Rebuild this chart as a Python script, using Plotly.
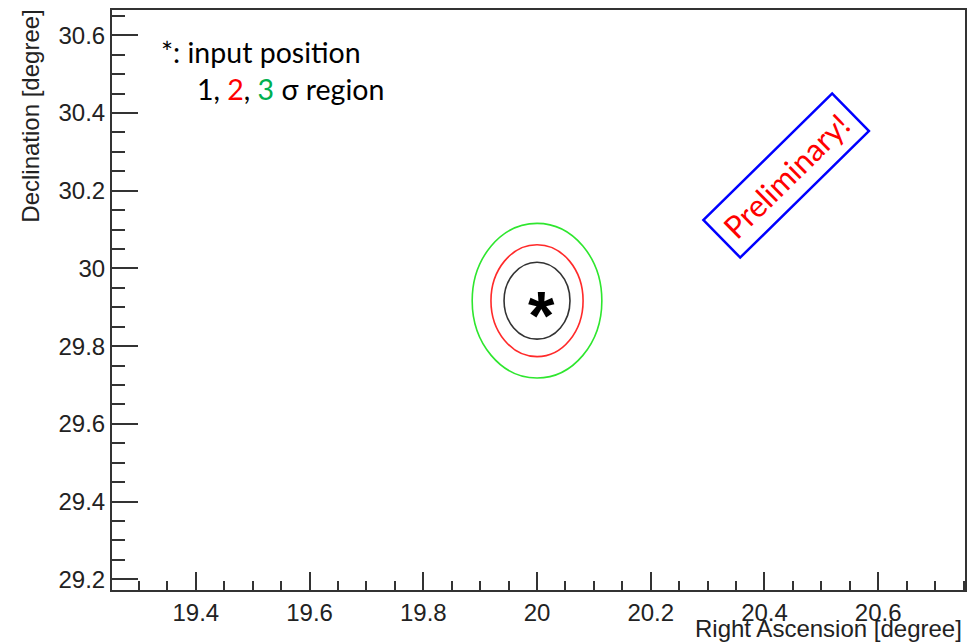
import plotly.graph_objects as go

# ---- data ----
x_range = [19.2526, 20.7526]
y_range = [29.1726, 30.665]
center_ra = 20.0
center_dec = 29.917
sigma_levels = ["1", "2", "3"]
semi_ra = [0.058, 0.081, 0.114]
semi_dec = [0.099, 0.144, 0.199]
sigma_colors = ["#333333", "#ff2a2a", "#2ee62e"]
input_ra = [20.008]
input_dec = [29.902]

W, H = 975, 643
ML, MR, MT, MB = 112, 8, 8, 53
PW, PH = W - ML - MR, H - MT - MB


def px(xp):
    return (xp - ML) / PW


def py(yp):
    return (H - MB - yp) / PH


fig = go.Figure()
fig.add_trace(go.Scatter(x=[None], y=[None], showlegend=False))

shapes = []
for lvl, a, b, c in zip(sigma_levels, semi_ra, semi_dec, sigma_colors):
    shapes.append(dict(type="circle", xref="x", yref="y",
                       x0=center_ra - a, x1=center_ra + a,
                       y0=center_dec - b, y1=center_dec + b,
                       line=dict(color=c, width=1.6)))

annotations = []
# input position asterisk
for xr, yd in zip(input_ra, input_dec):
    annotations.append(dict(x=xr, y=yd, xref="x", yref="y", text="<b>*</b>",
                            showarrow=False, yshift=-8,
                            font=dict(family="Liberation Sans", size=68, color="black")))

# legend-like text
annotations.append(dict(x=px(159), y=py(50), xref="paper", yref="paper",
                        xanchor="left", yanchor="middle", showarrow=False,
                        text="*: input position",
                        font=dict(family="Lato", size=28.5, color="black")))
annotations.append(dict(x=px(195), y=py(87), xref="paper", yref="paper",
                        xanchor="left", yanchor="middle", showarrow=False,
                        text="1, <span style='color:#ff0000'>2</span>, "
                             "<span style='color:#00b050'>3</span> σ region",
                        font=dict(family="Lato", size=28.5, color="black")))

# Preliminary stamp
annotations.append(dict(x=px(788), y=py(174.5), xref="paper", yref="paper",
                        xanchor="center", yanchor="middle", showarrow=False,
                        text="Preliminary!", textangle=-44.5,
                        width=176, height=48, borderpad=1,
                        bordercolor="#0000ff", borderwidth=2.5,
                        font=dict(family="Lato", size=31, color="#ff0000")))

# axis titles
annotations.append(dict(x=px(966), y=py(629), xref="paper", yref="paper",
                        xanchor="right", yanchor="middle", showarrow=False,
                        text="Right Ascension [degree]",
                        font=dict(family="Liberation Sans", size=24, color="#222222")))
annotations.append(dict(x=px(30), y=py(6), xref="paper", yref="paper",
                        xanchor="center", yanchor="top", showarrow=False,
                        text="Declination [degree]", textangle=-90,
                        font=dict(family="Liberation Sans", size=24, color="#222222")))

axis_common = dict(showgrid=False, zeroline=False, showline=True, mirror=True,
                   linecolor="#333333", linewidth=2, ticks="inside",
                   tickcolor="#333333", tickwidth=2,
                   tickfont=dict(family="Liberation Sans", size=24, color="#222222"))

fig.update_xaxes(range=x_range, dtick=0.2, tick0=19.4, ticklen=18,
                 minor=dict(dtick=0.05, ticks="inside", ticklen=9,
                            tickcolor="#333333", tickwidth=1.5),
                 **axis_common)
fig.update_yaxes(range=y_range, dtick=0.2, tick0=29.2, ticklen=26,
                 minor=dict(dtick=0.05, ticks="inside", ticklen=13,
                            tickcolor="#333333", tickwidth=1.5),
                 **axis_common)

fig.update_layout(width=W, height=H, margin=dict(l=ML, r=MR, t=MT, b=MB),
                  plot_bgcolor="white", paper_bgcolor="white",
                  shapes=shapes, annotations=annotations, showlegend=False)

fig.write_html("out.html")
